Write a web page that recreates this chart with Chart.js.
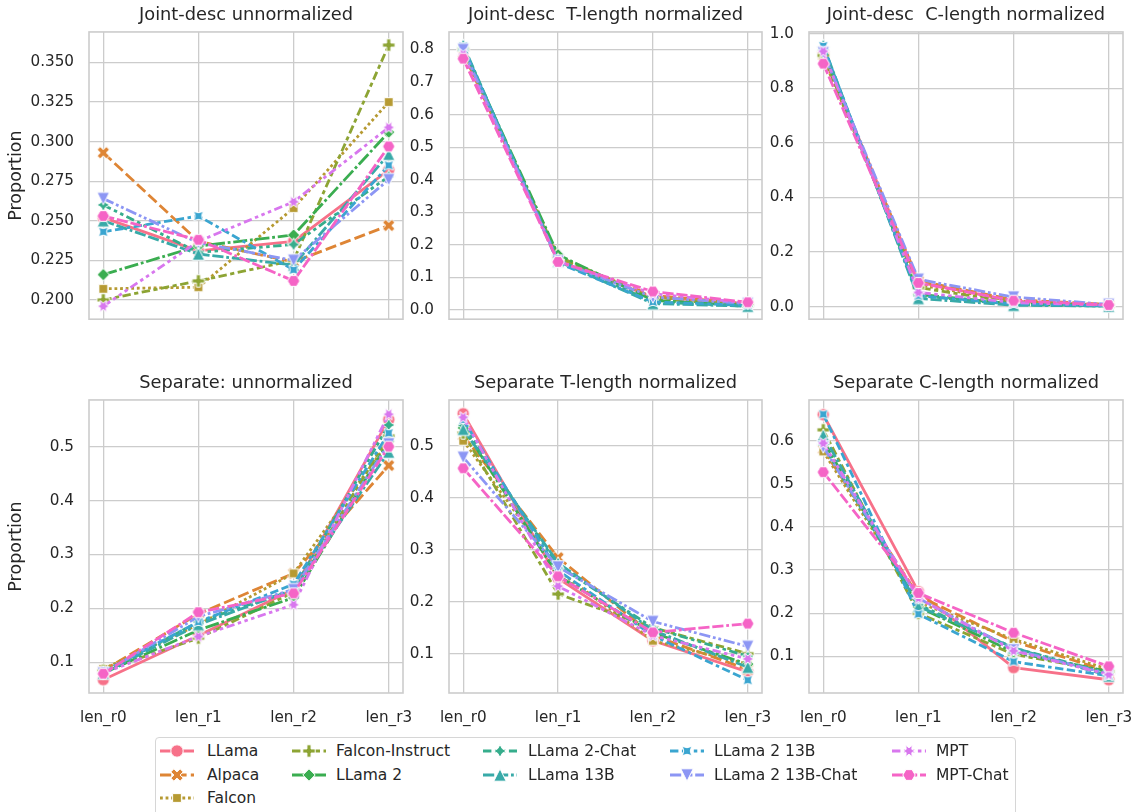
<!DOCTYPE html>
<html>
<head>
<meta charset="utf-8">
<script src="https://cdn.jsdelivr.net/npm/chart.js@4.4.0/dist/chart.umd.min.js"></script>
<style>
  body { margin: 0; background: #fff; font-family: "DejaVu Sans", sans-serif; color: #262626; }
  #wrap { position: relative; width: 1138px; height: 812px; overflow: hidden; }
  canvas.panel { position: absolute; }
  #legend { position: absolute; left: 155px; top: 737px; width: 861px; height: 100px;
            border: 1px solid #d6d6d6; border-radius: 4px; box-sizing: border-box; }
  .handle { position: absolute; }
  .lbl { position: absolute; font-size: 15.5px; line-height: 20px; white-space: pre; }
</style>
</head>
<body>
<div id="wrap">
  <canvas id="c1" class="panel" width="416" height="328" style="left:0px;top:0px"></canvas>
  <canvas id="c2" class="panel" width="370" height="328" style="left:406px;top:0px"></canvas>
  <canvas id="c3" class="panel" width="372" height="328" style="left:766px;top:0px"></canvas>
  <canvas id="c4" class="panel" width="416" height="365" style="left:0px;top:368px"></canvas>
  <canvas id="c5" class="panel" width="370" height="365" style="left:406px;top:368px"></canvas>
  <canvas id="c6" class="panel" width="372" height="365" style="left:766px;top:368px"></canvas>
  <div id="legend"></div>
</div>
<script>
// ===== data =====
const categories = ['len_r0', 'len_r1', 'len_r2', 'len_r3'];
const models = ['LLama', 'Alpaca', 'Falcon', 'Falcon-Instruct', 'LLama 2', 'LLama 2-Chat',
                'LLama 13B', 'LLama 2 13B', 'LLama 2 13B-Chat', 'MPT', 'MPT-Chat'];

// one row per model, one value per category
const jointUnnorm = [
  [0.252, 0.231, 0.237, 0.282],
  [0.293, 0.237, 0.224, 0.247],
  [0.207, 0.208, 0.258, 0.325],
  [0.200, 0.212, 0.225, 0.361],
  [0.216, 0.234, 0.241, 0.306],
  [0.260, 0.230, 0.235, 0.278],
  [0.250, 0.229, 0.222, 0.292],
  [0.243, 0.253, 0.219, 0.285],
  [0.264, 0.236, 0.225, 0.276],
  [0.196, 0.237, 0.262, 0.309],
  [0.253, 0.238, 0.212, 0.297]
];
const jointT = [
  [0.800, 0.150, 0.040, 0.020],
  [0.790, 0.155, 0.045, 0.020],
  [0.795, 0.160, 0.040, 0.018],
  [0.800, 0.165, 0.035, 0.015],
  [0.805, 0.170, 0.030, 0.013],
  [0.810, 0.155, 0.025, 0.012],
  [0.814, 0.150, 0.020, 0.012],
  [0.810, 0.145, 0.025, 0.015],
  [0.800, 0.150, 0.040, 0.020],
  [0.785, 0.150, 0.050, 0.022],
  [0.772, 0.148, 0.057, 0.024]
];
const jointC = [
  [0.930, 0.090, 0.020, 0.005],
  [0.920, 0.095, 0.025, 0.008],
  [0.910, 0.080, 0.020, 0.006],
  [0.920, 0.070, 0.015, 0.004],
  [0.940, 0.045, 0.010, 0.003],
  [0.950, 0.040, 0.008, 0.002],
  [0.958, 0.030, 0.005, 0.002],
  [0.955, 0.040, 0.010, 0.003],
  [0.930, 0.100, 0.035, 0.008],
  [0.935, 0.052, 0.015, 0.005],
  [0.890, 0.087, 0.022, 0.006]
];
const sepUnnorm = [
  [0.068, 0.150, 0.235, 0.550],
  [0.085, 0.190, 0.265, 0.465],
  [0.088, 0.170, 0.265, 0.510],
  [0.085, 0.145, 0.230, 0.520],
  [0.080, 0.160, 0.220, 0.510],
  [0.082, 0.175, 0.235, 0.540],
  [0.080, 0.170, 0.235, 0.490],
  [0.083, 0.175, 0.245, 0.525],
  [0.080, 0.185, 0.235, 0.505],
  [0.080, 0.148, 0.207, 0.560],
  [0.079, 0.193, 0.228, 0.500]
];
const sepT = [
  [0.562, 0.245, 0.125, 0.065],
  [0.520, 0.285, 0.135, 0.070],
  [0.510, 0.260, 0.125, 0.080],
  [0.525, 0.215, 0.150, 0.100],
  [0.535, 0.250, 0.140, 0.080],
  [0.540, 0.270, 0.150, 0.095],
  [0.532, 0.275, 0.145, 0.074],
  [0.550, 0.260, 0.135, 0.049],
  [0.478, 0.267, 0.162, 0.114],
  [0.555, 0.230, 0.135, 0.090],
  [0.457, 0.249, 0.141, 0.158]
];
const sepC = [
  [0.660, 0.250, 0.074, 0.046],
  [0.580, 0.240, 0.135, 0.065],
  [0.575, 0.225, 0.140, 0.070],
  [0.625, 0.200, 0.105, 0.065],
  [0.600, 0.215, 0.110, 0.065],
  [0.590, 0.220, 0.120, 0.060],
  [0.613, 0.216, 0.120, 0.055],
  [0.661, 0.198, 0.088, 0.055],
  [0.585, 0.235, 0.115, 0.060],
  [0.594, 0.235, 0.113, 0.058],
  [0.527, 0.247, 0.155, 0.077]
];

const ticksJointUnnorm = [0.200, 0.225, 0.250, 0.275, 0.300, 0.325, 0.350];
const ticksJointT = [0.0, 0.1, 0.2, 0.3, 0.4, 0.5, 0.6, 0.7, 0.8];
const ticksJointC = [0.0, 0.2, 0.4, 0.6, 0.8, 1.0];
const ticksSepUnnorm = [0.1, 0.2, 0.3, 0.4, 0.5];
const ticksSepT = [0.1, 0.2, 0.3, 0.4, 0.5];
const ticksSepC = [0.1, 0.2, 0.3, 0.4, 0.5, 0.6];

// ===== styles =====
const colors = ['#f77189', '#de8535', '#b69a32', '#8da434', '#3aad50', '#36ad8c',
                '#38aaa8', '#3aa5d0', '#8c96f4', '#d877ee', '#f564c6'];
const markers = ['o', 'X', 's', 'P', 'D', 'star4', '^', 'star4r', 'v', 'star6', 'hex'];
const dashes = [[], [4, 1.5], [1, 1], [3, 1.25, 1.5, 1.25], [5, 1, 1, 1],
                [3, 1.25, 1.25, 1.25, 1.25, 1.25], [4, 1, 4, 1, 1, 1],
                [3, 1.25, 3, 1.25, 1.25, 1.25], [4, 1, 1, 1, 1, 1],
                [3, 1.25, 1.25, 1.25, 1.25, 1.25, 1.25, 1.25], [4, 1, 4, 1, 4, 1, 1, 1]];
const LW = 2.8;
const GRID = '#cccccc';
const TEXT = '#262626';
const FONT = '"DejaVu Sans", sans-serif';

// ===== markers (seaborn shapes) =====
function polyPath(g, pts) {
  g.moveTo(pts[0][0], pts[0][1]);
  for (let k = 1; k < pts.length; k++) g.lineTo(pts[k][0], pts[k][1]);
  g.closePath();
}
function regular(n, r, rotDeg, inner) {
  const pts = [];
  const count = inner ? n * 2 : n;
  for (let k = 0; k < count; k++) {
    const a = Math.PI / 2 + rotDeg * Math.PI / 180 + k * 2 * Math.PI / count;
    const rr = inner && k % 2 === 1 ? r * inner : r;
    pts.push([rr * Math.cos(a), -rr * Math.sin(a)]);
  }
  return pts;
}
function markerPath(g, kind, r) {
  if (kind === 'o') { g.arc(0, 0, r, 0, Math.PI * 2); return; }
  if (kind === 's') { const a = r * Math.SQRT1_2; g.rect(-a, -a, 2 * a, 2 * a); return; }
  if (kind === 'D') return polyPath(g, regular(4, r, 0));
  if (kind === '^') return polyPath(g, [[0, -r], [r, r], [-r, r]]);
  if (kind === 'v') return polyPath(g, [[0, r], [r, -r], [-r, -r]]);
  if (kind === 'P') {
    const p = [[-1, -3], [1, -3], [1, -1], [3, -1], [3, 1], [1, 1], [1, 3], [-1, 3], [-1, 1], [-3, 1], [-3, -1], [-1, -1]];
    return polyPath(g, p.map(q => [q[0] * r / 3, q[1] * r / 3]));
  }
  if (kind === 'X') {
    const p = [[-1, -2], [0, -1], [1, -2], [2, -1], [1, 0], [2, 1], [1, 2], [0, 1], [-1, 2], [-2, 1], [-1, 0], [-2, -1]];
    return polyPath(g, p.map(q => [q[0] * r / 2, q[1] * r / 2]));
  }
  if (kind === 'star4') return polyPath(g, regular(4, r * 1.05, 0, 0.5));
  if (kind === 'star4r') return polyPath(g, regular(4, r * 1.05, 45, 0.5));
  if (kind === 'star6') return polyPath(g, regular(6, r * 1.05, 30, 0.5));
  if (kind === 'hex') return polyPath(g, regular(6, r, 30));
}
function drawMarker(g, kind, color, r) {
  g.beginPath();
  markerPath(g, kind, r);
  g.fillStyle = color;
  g.fill();
  g.strokeStyle = '#ffffff';
  g.lineWidth = 1;
  g.lineJoin = 'miter';
  g.stroke();
}
function makeMarker(kind, color, r) {
  const size = Math.ceil(r * 2 + 5);
  const c = document.createElement('canvas');
  c.width = size; c.height = size;
  const g = c.getContext('2d');
  g.translate(size / 2, size / 2);
  drawMarker(g, kind, color, r);
  return c;
}
const markerImgs = models.map((m, i) => makeMarker(markers[i], colors[i], 6.2));

// ===== frame around each axes =====
const framePlugin = {
  id: 'frame',
  beforeDatasetsDraw(chart) {
    const a = chart.chartArea, g = chart.ctx;
    g.save();
    g.strokeStyle = GRID;
    g.lineWidth = 1.6;
    g.strokeRect(a.left, a.top, a.right - a.left, a.bottom - a.top);
    g.restore();
  }
};

// ===== panels =====
function drawPanel(id, series, yMin, yMax, yTicks, digits, title, o) {
  const datasets = models.map((name, i) => ({
    label: name,
    data: series[i].map((v, k) => ({ x: k, y: v })),
    borderColor: colors[i],
    backgroundColor: colors[i],
    borderWidth: LW,
    borderDash: dashes[i].map(d => d * LW),
    borderCapStyle: 'butt',
    borderJoinStyle: 'round',
    pointStyle: markerImgs[i],
    pointRadius: 6,
    order: models.length - i,
    tension: 0
  }));
  new Chart(document.getElementById(id), {
    type: 'line',
    data: { datasets },
    options: {
      responsive: false,
      animation: false,
      events: [],
      layout: { padding: { left: 0, right: o.padRight, top: 0, bottom: o.padBottom } },
      plugins: {
        legend: { display: false },
        tooltip: { enabled: false },
        title: {
          display: true, text: title, fullSize: false, color: TEXT,
          font: { family: FONT, size: 17.8, weight: 'normal' },
          padding: { top: 5, bottom: 5.6 }
        }
      },
      scales: {
        x: {
          type: 'linear', min: -0.15, max: 3.15, bounds: 'data',
          afterBuildTicks: s => { s.ticks = categories.map((c, k) => ({ value: k })); },
          afterFit: s => { s.height = o.xH; s.paddingLeft = 0; s.paddingRight = 0; },
          grid: { color: GRID, lineWidth: 1.3, drawTicks: false },
          border: { display: false },
          ticks: {
            display: o.xLabels, padding: 16, color: TEXT, autoSkip: false, maxRotation: 0,
            font: { family: FONT, size: 15.2 },
            callback: v => categories[v]
          }
        },
        y: {
          min: yMin, max: yMax, bounds: 'data',
          afterBuildTicks: s => { s.ticks = yTicks.map(v => ({ value: v })); },
          afterFit: s => { s.width = o.yW; s.paddingTop = 0; s.paddingBottom = 0; },
          grid: { color: GRID, lineWidth: 1.3, drawTicks: false },
          border: { display: false },
          ticks: {
            padding: 15, color: TEXT, autoSkip: false,
            font: { family: FONT, size: 15.2 },
            callback: v => v.toFixed(digits)
          },
          title: {
            display: o.ylabel, text: 'Proportion', color: TEXT,
            font: { family: FONT, size: 17.5 },
            padding: { top: 6, bottom: 0 }
          }
        }
      }
    },
    plugins: [framePlugin]
  });
}

const topRow = { padBottom: 2, xH: 0, xLabels: false };
const bottomRow = { padBottom: 0, xH: 40, xLabels: true };
drawPanel('c1', jointUnnorm, 0.1878, 0.3693, ticksJointUnnorm, 3, 'Joint-desc unnormalized',
  Object.assign({ yW: 89, padRight: 13, ylabel: true }, topRow));
drawPanel('c2', jointT, -0.028, 0.854, ticksJointT, 1, 'Joint-desc  T-length normalized',
  Object.assign({ yW: 43, padRight: 14, ylabel: false }, topRow));
drawPanel('c3', jointC, -0.046, 1.006, ticksJointC, 1, 'Joint-desc  C-length normalized',
  Object.assign({ yW: 43, padRight: 15, ylabel: false }, topRow));
drawPanel('c4', sepUnnorm, 0.0433, 0.5865, ticksSepUnnorm, 1, 'Separate: unnormalized',
  Object.assign({ yW: 89, padRight: 13, ylabel: true }, bottomRow));
drawPanel('c5', sepT, 0.0244, 0.5885, ticksSepT, 1, 'Separate T-length normalized',
  Object.assign({ yW: 43, padRight: 14, ylabel: false }, bottomRow));
drawPanel('c6', sepC, 0.0153, 0.6942, ticksSepC, 1, 'Separate C-length normalized',
  Object.assign({ yW: 43, padRight: 15, ylabel: false }, bottomRow));

// ===== legend (5 columns, filled column by column) =====
const legendCols = [160, 292, 483, 670, 892];
const legendText = [207, 336, 528, 714, 936];
const legendRows = [751, 775, 798];
const legendBox = document.getElementById('legend');
models.forEach((name, i) => {
  const col = i < 3 ? 0 : 1 + Math.floor((i - 3) / 2);
  const row = i < 3 ? i : (i - 3) % 2;
  const cy = legendRows[row] - 738;
  const h = document.createElement('canvas');
  h.className = 'handle';
  h.width = 38; h.height = 20;
  h.style.left = (legendCols[col] - 2 - 156) + 'px';
  h.style.top = (cy - 10) + 'px';
  const g = h.getContext('2d');
  g.strokeStyle = colors[i];
  g.lineWidth = LW;
  g.lineCap = 'butt';
  g.setLineDash(dashes[i].map(d => d * LW));
  g.beginPath(); g.moveTo(2, 10); g.lineTo(36, 10); g.stroke();
  g.setLineDash([]);
  g.translate(19, 10);
  drawMarker(g, markers[i], colors[i], 6.2);
  legendBox.appendChild(h);
  const t = document.createElement('div');
  t.className = 'lbl';
  t.textContent = name;
  t.style.left = (legendText[col] - 156) + 'px';
  t.style.top = (cy - 10) + 'px';
  legendBox.appendChild(t);
});
</script>
</body>
</html>
